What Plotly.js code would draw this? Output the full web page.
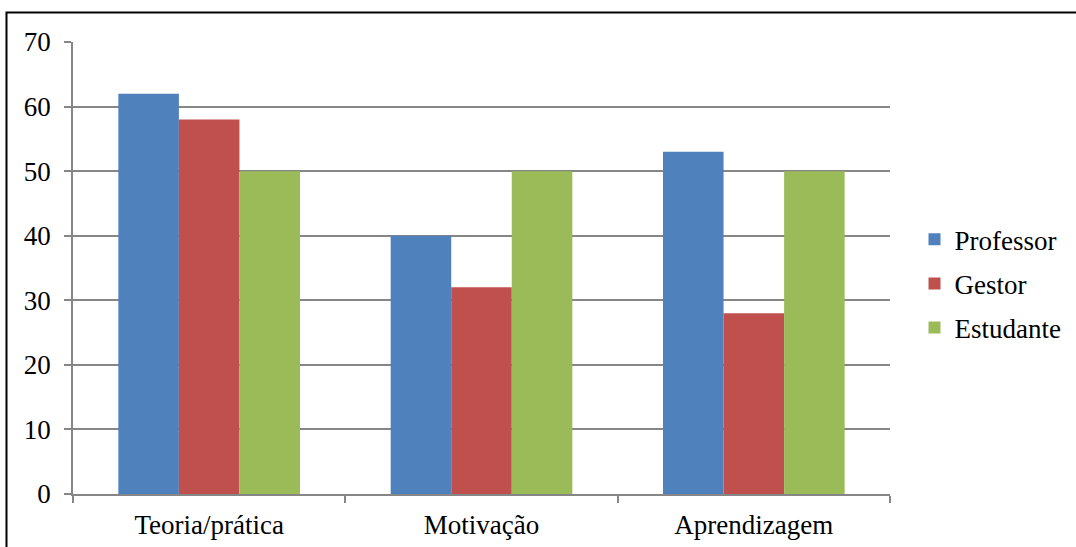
<!DOCTYPE html>
<html>
<head>
<meta charset="utf-8">
<script src="https://cdn.plot.ly/plotly-3.0.1.min.js"></script>
<style>
html,body{margin:0;padding:0;background:#fff;}
#chart{width:1076px;height:547px;}
</style>
</head>
<body>
<div id="chart"></div>
<script>
const categories = ["Teoria/prática", "Motivação", "Aprendizagem"];
const professor = [62, 40, 53];
const gestor = [58, 32, 28];
const estudante = [50, 50, 50];
const seriesNames = ["Professor", "Gestor", "Estudante"];
const colors = ["#4F81BD", "#C0504D", "#9BBB59"];
const yTicks = [0, 10, 20, 30, 40, 50, 60, 70];

const FONT = "Liberation Serif, Times New Roman, serif";
const FS = 27;
const series = [professor, gestor, estudante];
const data = series.map((vals, i) => ({
  type: "bar",
  x: categories,
  y: vals,
  name: seriesNames[i],
  legendgroup: "g" + i,
  marker: {color: colors[i], line: {width: 0}},
  hoverinfo: "x+y+name"
}));

const layout = {
  width: 1076,
  height: 547,
  margin: {l: 73, r: 186, t: 42, b: 53, pad: 0, autoexpand: false},
  paper_bgcolor: "#ffffff",
  plot_bgcolor: "#ffffff",
  font: {family: FONT, size: FS, color: "#000000"},
  barmode: "group",
  bargap: 0.333,
  bargroupgap: 0,
  showlegend: true,
  legend: {
    x: 1.030, xanchor: "left",
    y: 0.465, yanchor: "middle",
    font: {family: FONT, size: FS, color: "#000"},
    traceorder: "grouped",
    tracegroupgap: 6,
    bgcolor: "rgba(0,0,0,0)",
    itemclick: false
  },
  xaxis: {
    type: "category",
    tickson: "boundaries",
    ticks: "outside",
    ticklen: 7,
    tickcolor: "#868686",
    tickwidth: 1.5,
    showline: true,
    linecolor: "#868686",
    linewidth: 1.5,
    showgrid: false,
    ticklabelstandoff: 6,
    tickfont: {family: FONT, size: FS, color: "#000"},
    fixedrange: true
  },
  yaxis: {
    range: [0, 70],
    tickvals: yTicks,
    ticktext: yTicks.map(String),
    ticks: "outside",
    ticklen: 7,
    tickcolor: "#868686",
    tickwidth: 1.5,
    showline: true,
    linecolor: "#868686",
    linewidth: 1.5,
    showgrid: true,
    gridcolor: "#868686",
    gridwidth: 1.5,
    zeroline: false,
    ticklabelstandoff: 8,
    tickfont: {family: FONT, size: FS, color: "#000"},
    fixedrange: true
  },
  shapes: [{
    type: "rect", xref: "paper", yref: "paper",
    x0: -0.0814, x1: 1.25, y0: -0.2, y1: 1.0653,
    line: {color: "#000000", width: 2},
    fillcolor: "rgba(0,0,0,0)",
    layer: "above"
  }]
};

Plotly.newPlot("chart", data, layout, {displayModeBar: false});
</script>
</body>
</html>
